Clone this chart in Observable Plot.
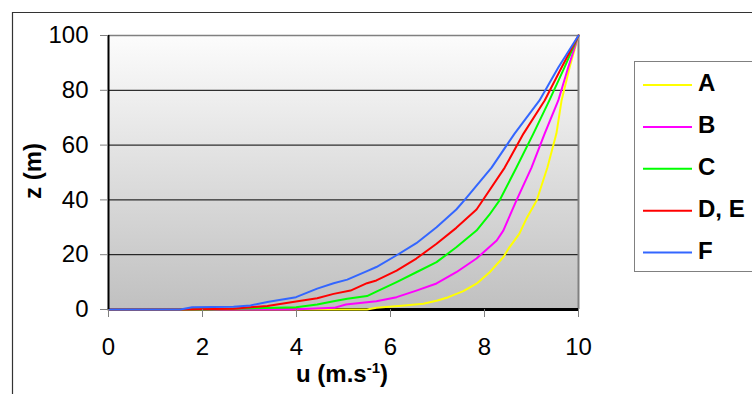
<!DOCTYPE html>
<html>
<head>
<meta charset="utf-8">
<script src="https://cdn.jsdelivr.net/npm/d3@7"></script>
<script src="https://cdn.jsdelivr.net/npm/@observablehq/plot@0.6"></script>
<style>
  html, body { margin: 0; padding: 0; background: #fff; }
  #chart { width: 752px; height: 394px; overflow: hidden; }
</style>
</head>
<body>
<div id="chart"></div>
<script>
// Wind speed profiles u(z) for stability classes A–F
const seriesNames = ["A", "B", "C", "D, E", "F"];
const seriesColors = ["#ffff00", "#ff00ff", "#00ff00", "#ff0000", "#3366ff"];

const uA = [0, 5.5, 5.7, 6.3, 6.7, 7.0, 7.23, 7.55, 7.83, 8.11, 8.4, 8.53, 8.74, 8.89, 9.11, 9.34, 9.53, 9.64, 9.81, 10];
const zA = [0, 0, 0.6, 1.5, 2.1, 3.3, 4.5, 6.7, 9.4, 13.6, 19.1, 22.7, 27.6, 33.1, 39.8, 51.9, 64.2, 76.3, 88.3, 100];

const uB = [0, 3.9, 4.8, 5.05, 5.7, 6.13, 6.55, 6.98, 7.4, 7.83, 8.26, 8.4, 8.68, 9.0, 9.28, 9.57, 9.78, 10];
const zB = [0, 0, 0.6, 1.8, 3.0, 4.5, 6.9, 9.5, 13.6, 18.6, 25.2, 28.8, 39.8, 51.8, 64.2, 76.3, 88.3, 100];

const uC = [0, 2.0, 3.99, 4.44, 4.79, 5.08, 5.5, 5.7, 6.13, 6.55, 6.98, 7.4, 7.83, 8.1, 8.32, 8.68, 9.04, 9.38, 9.7, 10];
const zC = [0, 0, 0.8, 1.8, 3.0, 3.9, 4.9, 6.5, 10, 13.6, 17.3, 22.7, 28.8, 34.5, 39.8, 51.8, 64.2, 76.3, 88.3, 100];

const uDE = [0, 1.5, 2.66, 3.38, 3.99, 4.44, 4.79, 5.15, 5.5, 5.7, 6.13, 6.55, 6.98, 7.4, 7.83, 7.96, 8.43, 8.83, 9.28, 9.64, 10];
const zDE = [0, 0, 0.3, 1.3, 2.9, 4.1, 5.7, 6.9, 9.6, 10.6, 14.2, 18.6, 24, 29.8, 36.5, 39.8, 51.8, 64.2, 76.3, 88.3, 100];

const uF = [0, 1.53, 1.78, 2.66, 3.02, 3.38, 3.99, 4.44, 4.79, 5.08, 5.5, 5.7, 6.13, 6.55, 6.98, 7.4, 7.57, 8.15, 8.64, 9.17, 9.57, 10];
const zF = [0, 0, 0.8, 1.0, 1.5, 2.7, 4.5, 7.6, 9.6, 10.9, 14.0, 15.5, 19.8, 24.2, 30, 36.5, 39.8, 51.8, 64.2, 76.3, 88.3, 100];

const xTicks = [0, 2, 4, 6, 8, 10];
const yTicks = [0, 20, 40, 60, 80, 100];
const xTitle = "u (m.s";
const xTitleSup = "-1";
const yTitle = "z (m)";

const profiles = [
  [seriesNames[0], uA, zA],
  [seriesNames[1], uB, zB],
  [seriesNames[2], uC, zC],
  [seriesNames[3], uDE, zDE],
  [seriesNames[4], uF, zF]
];
const rows = profiles.flatMap(([name, us, zs]) => us.map((u, i) => ({name, u, z: zs[i]})));

const font = "'Liberation Sans', Arial, sans-serif";

const svg = Plot.plot({
  width: 752,
  height: 394,
  marginLeft: 108,
  marginRight: 174,
  marginTop: 35,
  marginBottom: 85,
  style: {fontFamily: font, fontSize: "24px", background: "#fff", color: "#000"},
  x: {domain: [0, 10]},
  y: {domain: [0, 100]},
  color: {domain: seriesNames, range: seriesColors},
  marks: [
    Plot.frame({fill: "url(#plotBg)", stroke: "none"}),
    Plot.ruleY(yTicks.filter(d => d > 0 && d < 100), {stroke: "#000", strokeWidth: 1}),
    Plot.ruleY([100], {stroke: "#808080", strokeWidth: 1.5}),
    Plot.ruleX([10], {stroke: "#808080", strokeWidth: 2}),
    Plot.ruleY([0], {stroke: "#000", strokeWidth: 3}),
    Plot.line(rows, {x: "u", y: "z", z: "name", stroke: "name", strokeWidth: 2}),
    Plot.ruleX([0], {stroke: "#000", strokeWidth: 2}),
    Plot.axisX(xTicks, {tickSize: 8, tickPadding: 20, fontSize: 24, label: null}),
    Plot.axisY(yTicks, {tickSize: 8, tickPadding: 12, fontSize: 24, label: null})
  ]
});

const s = d3.select(svg);

// plot-area gradient
const grad = s.insert("defs", ":first-child")
  .append("linearGradient")
  .attr("id", "plotBg")
  .attr("x1", 0).attr("y1", 0).attr("x2", 0).attr("y2", 1);
grad.append("stop").attr("offset", "0%").attr("stop-color", "#fcfcfc");
grad.append("stop").attr("offset", "100%").attr("stop-color", "#c0c0c0");

// grey tick marks
s.selectAll('g[aria-label="x-axis tick"], g[aria-label="y-axis tick"]').attr("stroke", "#808080");

// outer chart border
s.append("path")
  .attr("d", "M12.5,400V12.5H760")
  .attr("fill", "none")
  .attr("stroke", "#333")
  .attr("stroke-width", 1.2);

// axis titles
const xt = s.append("text")
  .attr("x", 342).attr("y", 382)
  .attr("text-anchor", "middle")
  .attr("font-weight", "bold")
  .attr("font-size", 24)
  .attr("font-family", font);
xt.append("tspan").text(xTitle);
xt.append("tspan").attr("dy", -9).attr("font-size", 15).text(xTitleSup);
xt.append("tspan").attr("dy", 9).text(")");

s.append("text")
  .attr("transform", "translate(41,171) rotate(-90)")
  .attr("text-anchor", "middle")
  .attr("font-weight", "bold")
  .attr("font-size", 24)
  .attr("font-family", font)
  .text(yTitle);

// legend
s.append("rect")
  .attr("x", 634.5).attr("y", 61.5)
  .attr("width", 200).attr("height", 210)
  .attr("fill", "#fff")
  .attr("stroke", "#808080")
  .attr("stroke-width", 1);
const items = s.append("g").selectAll("g")
  .data(seriesNames)
  .join("g")
  .attr("transform", (d, i) => `translate(0,${85 + i * 41.9})`);
items.append("line")
  .attr("x1", 643).attr("x2", 692)
  .attr("stroke", (d, i) => seriesColors[i])
  .attr("stroke-width", 2);
items.append("text")
  .attr("x", 698).attr("y", 6)
  .attr("text-anchor", "start")
  .attr("font-weight", "bold")
  .attr("font-size", 24)
  .attr("font-family", font)
  .text(d => d);

document.getElementById("chart").appendChild(svg);
</script>
</body>
</html>
